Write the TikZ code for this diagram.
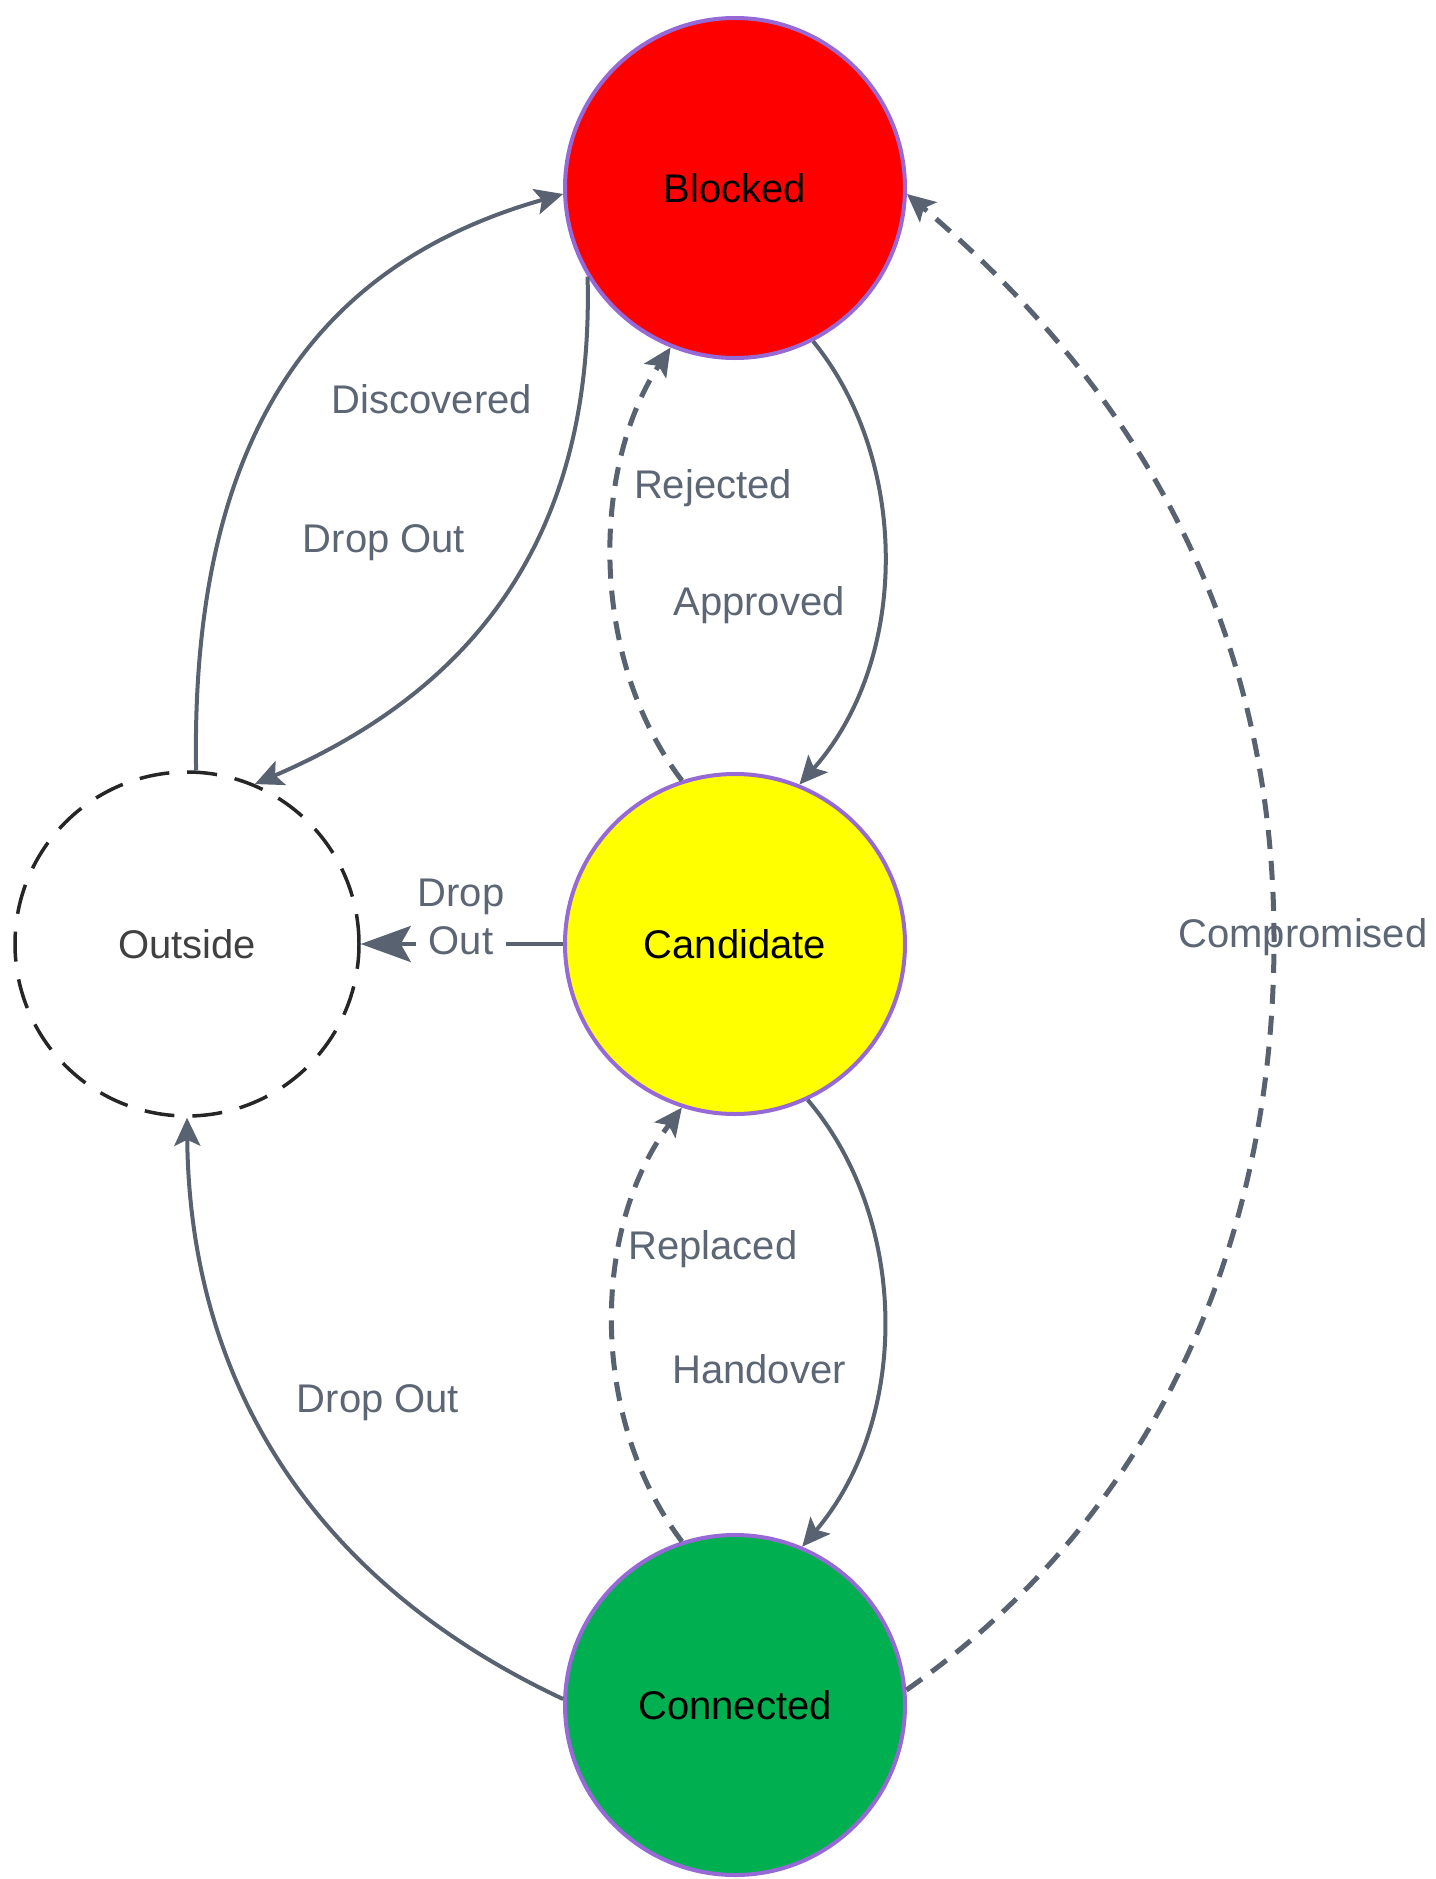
\documentclass[tikz,border=0pt]{standalone}
\usepackage{fontspec}
\setmainfont{Liberation Sans}
\usetikzlibrary{arrows.meta}

\definecolor{edgegray}{RGB}{88,98,112}
\definecolor{labelgray}{RGB}{92,102,116}
\definecolor{ringpurple}{RGB}{150,105,215}
\definecolor{blockedred}{RGB}{255,0,0}
\definecolor{candyellow}{RGB}{255,255,0}
\definecolor{connectedgreen}{RGB}{0,176,80}

\begin{document}
\begin{tikzpicture}[x=0.5pt,y=-0.5pt,
  labelfont/.style={font=\fontsize{20}{24}\selectfont},
  state/.style={circle, draw=ringpurple, line width=2pt, minimum size=170pt,
    inner sep=0pt, labelfont, text=black},
  outside/.style={circle, draw=black!85, line width=1.75pt,
    dash pattern=on 15pt off 9pt, minimum size=172pt, inner sep=0pt,
    labelfont, text=black!75},
  lbl/.style={text=labelgray, labelfont, inner sep=1pt},
  flow/.style={draw=edgegray, line width=2pt,
    -{Stealth[length=14pt,width=13pt,inset=3pt]}},
  altflow/.style={flow, line width=2.5pt, dash pattern=on 9.5pt off 6pt},
]
% canvas
\path[use as bounding box, fill=white] (0,0) rectangle (1435,1879);

% states
\node[state, fill=blockedred]     (B) at (735,188)  {Blocked};
\node[state, fill=candyellow]     (C) at (735,944)  {Candidate};
\node[state, fill=connectedgreen] (N) at (735,1705) {Connected};
\node[outside]                    (O) at (187,944)  {Outside};

% transition labels
\node[lbl] (lDisc)  at (432,399)  {Discovered};
\node[lbl] (lDropA) at (384,543)  {Drop Out};
\node[lbl] (lRej)   at (713,488)  {Rejected};
\node[lbl] (lAppr)  at (759,605)  {Approved};
\node[lbl] (lComp)  at (1303,937) {Compromised};
\node[lbl] (lRepl)  at (713,1249) {Replaced};
\node[lbl] (lHand)  at (759,1369) {Handover};
\node[lbl] (lDropC) at (378,1403) {Drop Out};

% turning point of the long dashed arc
\coordinate (cmpTurn) at (1274,940);

% transitions
\draw[flow] (O.87) .. controls (190,420) and (330,260) .. (B.182);
\draw[flow] (B.211) .. controls (595,560) and (450,700) .. (O.67);
\draw[altflow] (C.108) .. controls (590,660) and (590,470) .. (B.248);
\draw[flow] (B.297) .. controls (910,460) and (910,660) .. (C.68);
\draw[flow, -{Stealth[length=25pt,width=18pt,inset=5pt]}] (C.180) -- (O.0);
\draw[altflow] (N.5) .. controls (1150,1520) and (1274,1250) .. (cmpTurn)
               .. controls (1274,640) and (1150,400) .. (B.358);
\draw[altflow] (N.108) .. controls (590,1420) and (590,1230) .. (C.252);
\draw[flow] (C.295) .. controls (910,1220) and (910,1420) .. (N.67);
\draw[flow] (N.178) .. controls (330,1590) and (190,1400) .. (O.270);

% label sitting on the horizontal transition
\node[lbl, fill=white, align=center] (lDropB) at (461,917) {Drop\\Out};
\end{tikzpicture}
\end{document}
